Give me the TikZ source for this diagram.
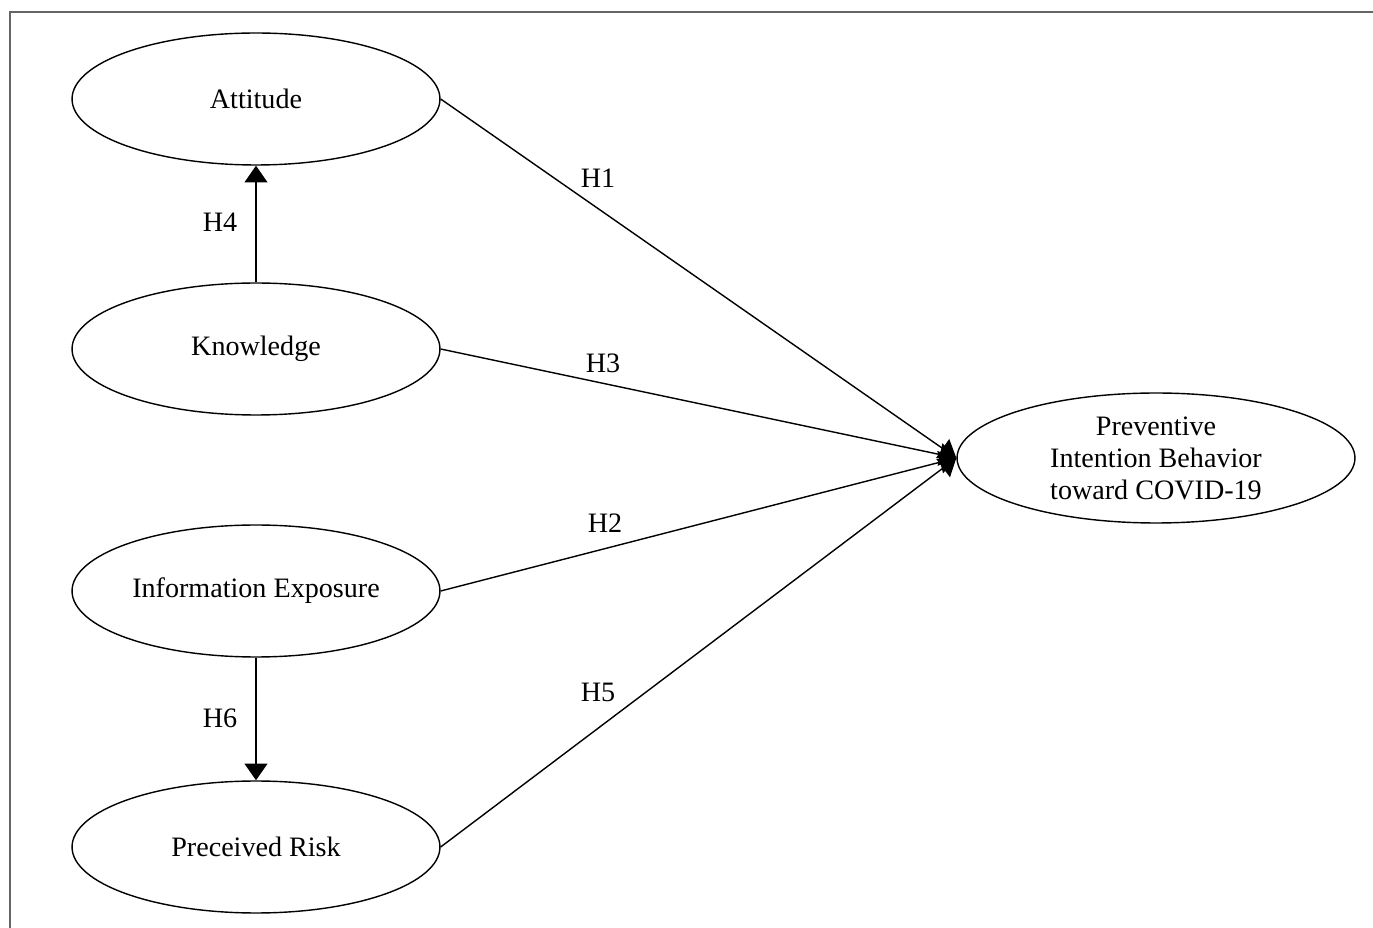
\documentclass[tikz,border=0pt]{standalone}
\usepackage{fontspec}
\setmainfont{Liberation Serif}
\usetikzlibrary{arrows.meta,positioning,shapes.geometric}

\begin{document}
\begin{tikzpicture}[x=0.02cm,y=-0.02cm,
  construct/.style={draw,ellipse,line width=0.8pt,minimum width=7.36cm,minimum height=2.64cm,inner sep=0pt,align=center,font=\fontsize{16}{18.2}\selectfont},
  path/.style={line width=0.8pt,-{Triangle[width=13pt,length=9.5pt]}},
  hyp/.style={font=\fontsize{16}{18.2}\selectfont}]
\useasboundingbox (0,0) rectangle (1373,928);
\draw [gray!80!black,line width=1.2pt] (10,928) -- (10,12) -- (1373,12);
% constructs
\node [construct] (att) at (256,99) {Attitude};
\node [construct] (know) at (256,349) {Knowledge};
\node [construct] (info) at (256,591) {Information Exposure};
\node [construct] (risk) at (256,847) {Preceived Risk};
\node [construct,minimum width=7.96cm,minimum height=2.6cm] (pib) at (1156,458) {Preventive\\Intention Behavior\\toward COVID-19};
% hypotheses
\draw [path] (att.east) -- (pib.west);
\draw [path] (know.east) -- (pib.west);
\draw [path] (info.east) -- (pib.west);
\draw [path] (risk.east) -- (pib.west);
\draw [path] (know.north) -- (att.south);
\draw [path] (info.south) -- (risk.north);
\node [hyp] (h1) at (598,178) {H1};
\node [hyp] (h3) at (603,363) {H3};
\node [hyp] (h2) at (605,523) {H2};
\node [hyp] (h5) at (598,692) {H5};
\node [hyp] (h4) at (220,222) {H4};
\node [hyp] (h6) at (220,718) {H6};
\end{tikzpicture}
\end{document}
